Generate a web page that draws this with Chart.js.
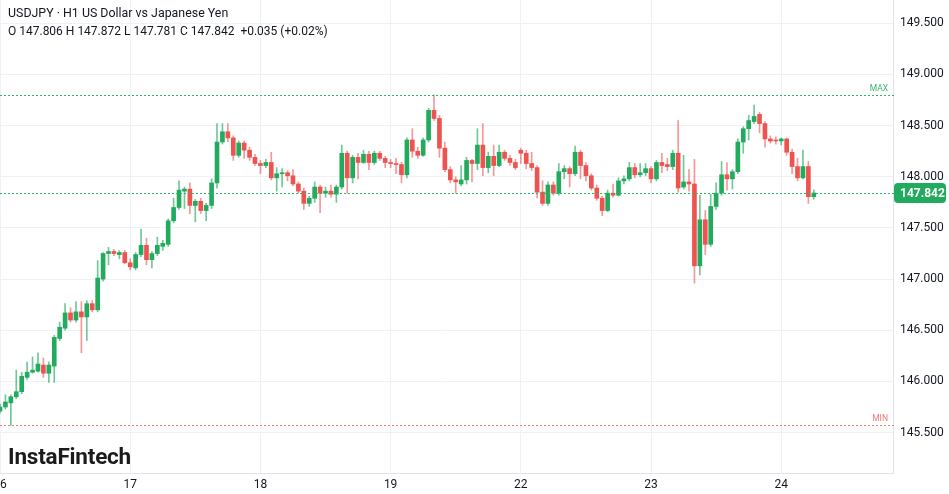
<!DOCTYPE html>
<html>
<head>
<meta charset="utf-8">
<script src="https://cdn.jsdelivr.net/npm/chart.js@4.4.1/dist/chart.umd.min.js"></script>
<style>
    body { margin: 0; background: #fff; font-family: Roboto, "Liberation Sans", sans-serif; }
    #wrap { position: relative; width: 949px; height: 494px; }
    #title { position: absolute; left: 8px; top: 5px; font-size: 12.4px; color: #131722; white-space: nowrap; }
    #ohlc { position: absolute; left: 8px; top: 24px; font-size: 12px; color: #131722; white-space: nowrap; }
    #logo { position: absolute; left: 8px; top: 443px; font-size: 22.5px; font-weight: bold; color: #1b1b1b; letter-spacing: -0.2px; }
</style>
</head>
<body>
<div id="wrap">
    <canvas id="chart" width="949" height="494"></canvas>
    <div id="title">USDJPY · H1 US Dollar vs Japanese Yen</div>
    <div id="ohlc">O 147.806 H 147.872 L 147.781 C 147.842 &nbsp;+0.035 (+0.02%)</div>
    <div id="logo">InstaFintech</div>
</div>
<script>
// hourly candles, 16th 00:00 onwards (index = hour)
const opens = [
    145.71, 145.75, 145.79, 145.85, 145.90, 146.04, 146.09, 146.10, 146.16, 146.08,
    146.15, 146.42, 146.52, 146.67, 146.60, 146.68, 146.63, 146.76, 146.70, 147.00,
    147.25, 147.27, 147.24, 147.26, 147.16, 147.11, 147.24, 147.33, 147.19, 147.25,
    147.32, 147.34, 147.57, 147.70, 147.86, 147.88, 147.72, 147.76, 147.67, 147.72,
    147.94, 148.34, 148.44, 148.38, 148.21, 148.33, 148.26, 148.19, 148.13, 148.11,
    148.14, 147.99, 148.03, 148.04, 148.01, 147.93, 147.86, 147.74, 147.79, 147.90,
    147.84, 147.86, 147.83, 147.90, 148.23, 147.99, 148.19, 148.14, 148.22, 148.14,
    148.23, 148.18, 148.14, 148.13, 148.12, 148.02, 148.36, 148.25, 148.21, 148.36,
    148.65, 148.57, 148.28, 148.07, 147.97, 147.93, 147.97, 148.16, 148.13, 148.31,
    148.09, 148.20, 148.11, 148.24, 148.18, 148.14, 148.26, 148.23, 148.13, 148.09,
    147.85, 147.74, 147.92, 147.84, 148.05, 148.08, 148.03, 148.24, 148.11, 148.01,
    147.89, 147.79, 147.67, 147.84, 147.82, 147.96, 147.98, 148.09, 148.02, 148.04,
    148.08, 147.98, 148.14, 148.12, 148.10, 148.23, 147.90, 147.95, 147.93, 147.13,
    147.58, 147.34, 147.71, 147.84, 148.02, 147.98, 148.05, 148.34, 148.47, 148.54,
    148.61, 148.52, 148.37, 148.36, 148.35, 148.37, 148.24, 148.10, 147.99, 148.10,
    147.806
];
const highs = [
    145.78, 145.87, 145.87, 146.11, 146.09, 146.19, 146.24, 146.28, 146.23, 146.19,
    146.45, 146.58, 146.76, 146.72, 146.78, 146.78, 146.79, 146.79, 147.18, 147.26,
    147.31, 147.29, 147.28, 147.28, 147.20, 147.26, 147.49, 147.40, 147.27, 147.41,
    147.38, 147.59, 147.79, 147.96, 147.90, 147.94, 147.78, 147.79, 147.74, 147.98,
    148.52, 148.52, 148.52, 148.40, 148.35, 148.35, 148.29, 148.22, 148.16, 148.17,
    148.24, 148.09, 148.08, 148.06, 148.07, 147.95, 147.89, 147.81, 147.95, 147.92,
    147.90, 147.92, 147.92, 148.31, 148.25, 148.21, 148.23, 148.26, 148.25, 148.25,
    148.25, 148.20, 148.17, 148.18, 148.14, 148.38, 148.47, 148.29, 148.38, 148.67,
    148.80, 148.60, 148.34, 148.10, 148.00, 148.11, 148.19, 148.17, 148.47, 148.52,
    148.24, 148.31, 148.31, 148.26, 148.21, 148.17, 148.28, 148.26, 148.24, 148.11,
    147.96, 147.95, 147.95, 148.13, 148.11, 148.10, 148.30, 148.26, 148.14, 148.03,
    147.92, 147.81, 147.87, 147.93, 147.99, 148.01, 148.14, 148.13, 148.13, 148.13,
    148.10, 148.16, 148.23, 148.18, 148.26, 148.55, 148.21, 148.07, 148.17, 147.82,
    147.67, 147.83, 147.94, 148.15, 148.14, 148.07, 148.37, 148.49, 148.60, 148.70,
    148.63, 148.54, 148.40, 148.39, 148.38, 148.38, 148.27, 148.18, 148.26, 148.15,
    147.872
];
const lows = [
    145.69, 145.73, 145.57, 145.83, 145.88, 146.02, 146.08, 146.09, 146.04, 145.99,
    145.99, 146.40, 146.50, 146.58, 146.58, 146.28, 146.40, 146.68, 146.68, 146.98,
    147.14, 147.23, 147.20, 147.15, 147.09, 147.09, 147.22, 147.14, 147.11, 147.23,
    147.28, 147.32, 147.55, 147.68, 147.69, 147.64, 147.56, 147.64, 147.57, 147.69,
    147.89, 148.32, 148.34, 148.16, 148.19, 148.18, 148.16, 148.11, 148.03, 148.09,
    147.97, 147.86, 147.90, 147.96, 147.91, 147.84, 147.68, 147.71, 147.75, 147.65,
    147.80, 147.80, 147.75, 147.88, 147.84, 147.94, 147.98, 148.13, 148.07, 148.12,
    148.16, 148.09, 148.09, 148.03, 147.94, 147.99, 148.19, 148.18, 148.20, 148.34,
    148.55, 148.19, 148.05, 147.94, 147.84, 147.91, 147.93, 147.95, 148.07, 148.01,
    148.04, 148.01, 148.10, 148.16, 148.11, 148.07, 148.13, 148.08, 148.06, 147.79,
    147.72, 147.72, 147.82, 147.82, 147.98, 147.90, 148.01, 147.98, 147.96, 147.87,
    147.77, 147.62, 147.66, 147.80, 147.81, 147.93, 147.96, 147.99, 148.00, 148.01,
    147.94, 147.96, 148.04, 148.06, 148.07, 147.85, 147.88, 147.86, 146.96, 147.04,
    147.24, 147.32, 147.68, 147.82, 147.87, 147.88, 148.03, 148.23, 148.36, 148.52,
    148.43, 148.29, 148.33, 148.32, 148.31, 148.21, 148.03, 147.96, 147.98, 147.74,
    147.781
];
const closes = [
    145.75, 145.80, 145.85, 145.90, 146.05, 146.09, 146.11, 146.17, 146.08, 146.16,
    146.43, 146.53, 146.67, 146.60, 146.68, 146.63, 146.76, 146.70, 147.01, 147.25,
    147.27, 147.25, 147.26, 147.16, 147.12, 147.24, 147.33, 147.19, 147.25, 147.33,
    147.35, 147.57, 147.70, 147.87, 147.88, 147.72, 147.76, 147.67, 147.72, 147.94,
    148.34, 148.44, 148.38, 148.21, 148.33, 148.26, 148.19, 148.13, 148.11, 148.14,
    147.99, 148.03, 148.04, 148.01, 147.93, 147.86, 147.74, 147.79, 147.90, 147.84,
    147.86, 147.83, 147.90, 148.23, 147.99, 148.19, 148.14, 148.22, 148.14, 148.23,
    148.18, 148.14, 148.13, 148.12, 148.02, 148.36, 148.25, 148.21, 148.36, 148.65,
    148.57, 148.28, 148.07, 147.97, 147.95, 147.97, 148.16, 148.13, 148.31, 148.09,
    148.20, 148.11, 148.24, 148.18, 148.14, 148.09, 148.23, 148.13, 148.09, 147.85,
    147.74, 147.92, 147.84, 148.05, 148.08, 148.03, 148.24, 148.11, 148.01, 147.89,
    147.79, 147.67, 147.84, 147.82, 147.96, 147.98, 148.09, 148.02, 148.04, 148.08,
    147.98, 148.14, 148.11, 148.10, 148.23, 147.89, 147.95, 147.93, 147.13, 147.58,
    147.34, 147.71, 147.84, 148.02, 147.98, 148.05, 148.34, 148.47, 148.55, 148.59,
    148.52, 148.37, 148.35, 148.35, 148.37, 148.24, 148.10, 147.99, 148.10, 147.806,
    147.842
];

const dayTicks = [0, 24, 48, 72, 96, 120, 144];
const dayLabels = ['16', '17', '18', '19', '22', '23', '24'];
const priceTicks = [145.5, 146.0, 146.5, 147.0, 147.5, 148.0, 148.5, 149.0, 149.5];

const UP = '#22ab5e';
const DOWN = '#ef5350';
const UP_WICK = 'rgba(34,171,94,0.65)';
const DOWN_WICK = 'rgba(239,83,80,0.6)';

const isUp = closes.map((c, i) => c >= opens[i]);

const bodies = opens.map((o, i) => ({ x: i, y: [o, closes[i]] }));
const wicks = lows.map((l, i) => ({ x: i, y: [l, highs[i]] }));

const markers = {
    id: 'markers',
    afterDatasetsDraw(chart) {
        const { ctx, chartArea, scales } = chart;
        const y = scales.y;
        const maxHigh = Math.max(...highs);
        const minLow = Math.min(...lows);
        const last = closes[closes.length - 1];

        // dotted level line, drawn as small squares so it stays crisp
        function dotted(v, color) {
            const py = Math.round(y.getPixelForValue(v));
            ctx.save();
            ctx.fillStyle = color;
            for (let x = chartArea.left; x < chartArea.right; x += 4) {
                ctx.fillRect(x, py, 2, 1);
            }
            ctx.restore();
            return py;
        }

        ctx.save();
        ctx.font = '8.5px Roboto, sans-serif';
        ctx.textAlign = 'right';
        ctx.textBaseline = 'bottom';

        const pMax = dotted(maxHigh, '#2fb86c');
        ctx.fillStyle = '#3cb371';
        ctx.fillText('MAX', chartArea.right - 5, pMax - 2);

        const pMin = dotted(minLow, '#f07c7c');
        ctx.fillStyle = '#f07878';
        ctx.fillText('MIN', chartArea.right - 5, pMin - 2);

        const pLast = dotted(last, '#2fb86c');
        ctx.fillStyle = UP;
        ctx.beginPath();
        ctx.roundRect(chartArea.right + 1, pLast - 10, 52, 20, 4);
        ctx.fill();
        ctx.fillStyle = '#fff';
        ctx.font = 'bold 12px Roboto, sans-serif';
        ctx.textAlign = 'left';
        ctx.textBaseline = 'middle';
        ctx.fillText(last.toFixed(3), chartArea.right + 7, pLast + 1);
        ctx.restore();
    }
};

new Chart(document.getElementById('chart'), {
    type: 'bar',
    data: {
        datasets: [
            {
                data: bodies,
                backgroundColor: isUp.map(u => u ? UP : DOWN),
                barThickness: 4,
                minBarLength: 1,
                grouped: false,
                order: 0
            },
            {
                data: wicks,
                backgroundColor: isUp.map(u => u ? UP_WICK : DOWN_WICK),
                barThickness: 1,
                grouped: false,
                order: 1
            }
        ]
    },
    options: {
        responsive: false,
        devicePixelRatio: 1,
        animation: false,
        layout: { padding: 0 },
        plugins: { legend: { display: false }, tooltip: { enabled: false } },
        scales: {
            x: {
                type: 'linear',
                min: 0,
                max: 164.6,
                offset: false,
                grid: { color: '#eef1f7', drawTicks: false, offset: false },
                border: { color: '#e0e3eb' },
                afterBuildTicks: s => { s.ticks = dayTicks.map(v => ({ value: v })); },
                afterFit: s => { s.height = 21; s.paddingLeft = 0; s.paddingRight = 0; },
                ticks: {
                    padding: 5,
                    maxRotation: 0,
                    autoSkip: false,
                    color: '#131722',
                    font: { family: 'Roboto', size: 12 },
                    callback: (v, i) => dayLabels[i]
                }
            },
            y: {
                position: 'right',
                min: 145.105,
                max: 149.728,
                grid: { color: '#eef1f7', drawTicks: false },
                border: { color: '#e0e3eb' },
                afterBuildTicks: s => { s.ticks = priceTicks.map(v => ({ value: v })); },
                afterFit: s => { s.width = 56; s.paddingTop = 0; s.paddingBottom = 0; },
                ticks: {
                    padding: 7,
                    color: '#131722',
                    font: { family: 'Roboto', size: 12 },
                    callback: v => v.toFixed(3)
                }
            }
        }
    },
    plugins: [markers]
});
</script>
</body>
</html>
